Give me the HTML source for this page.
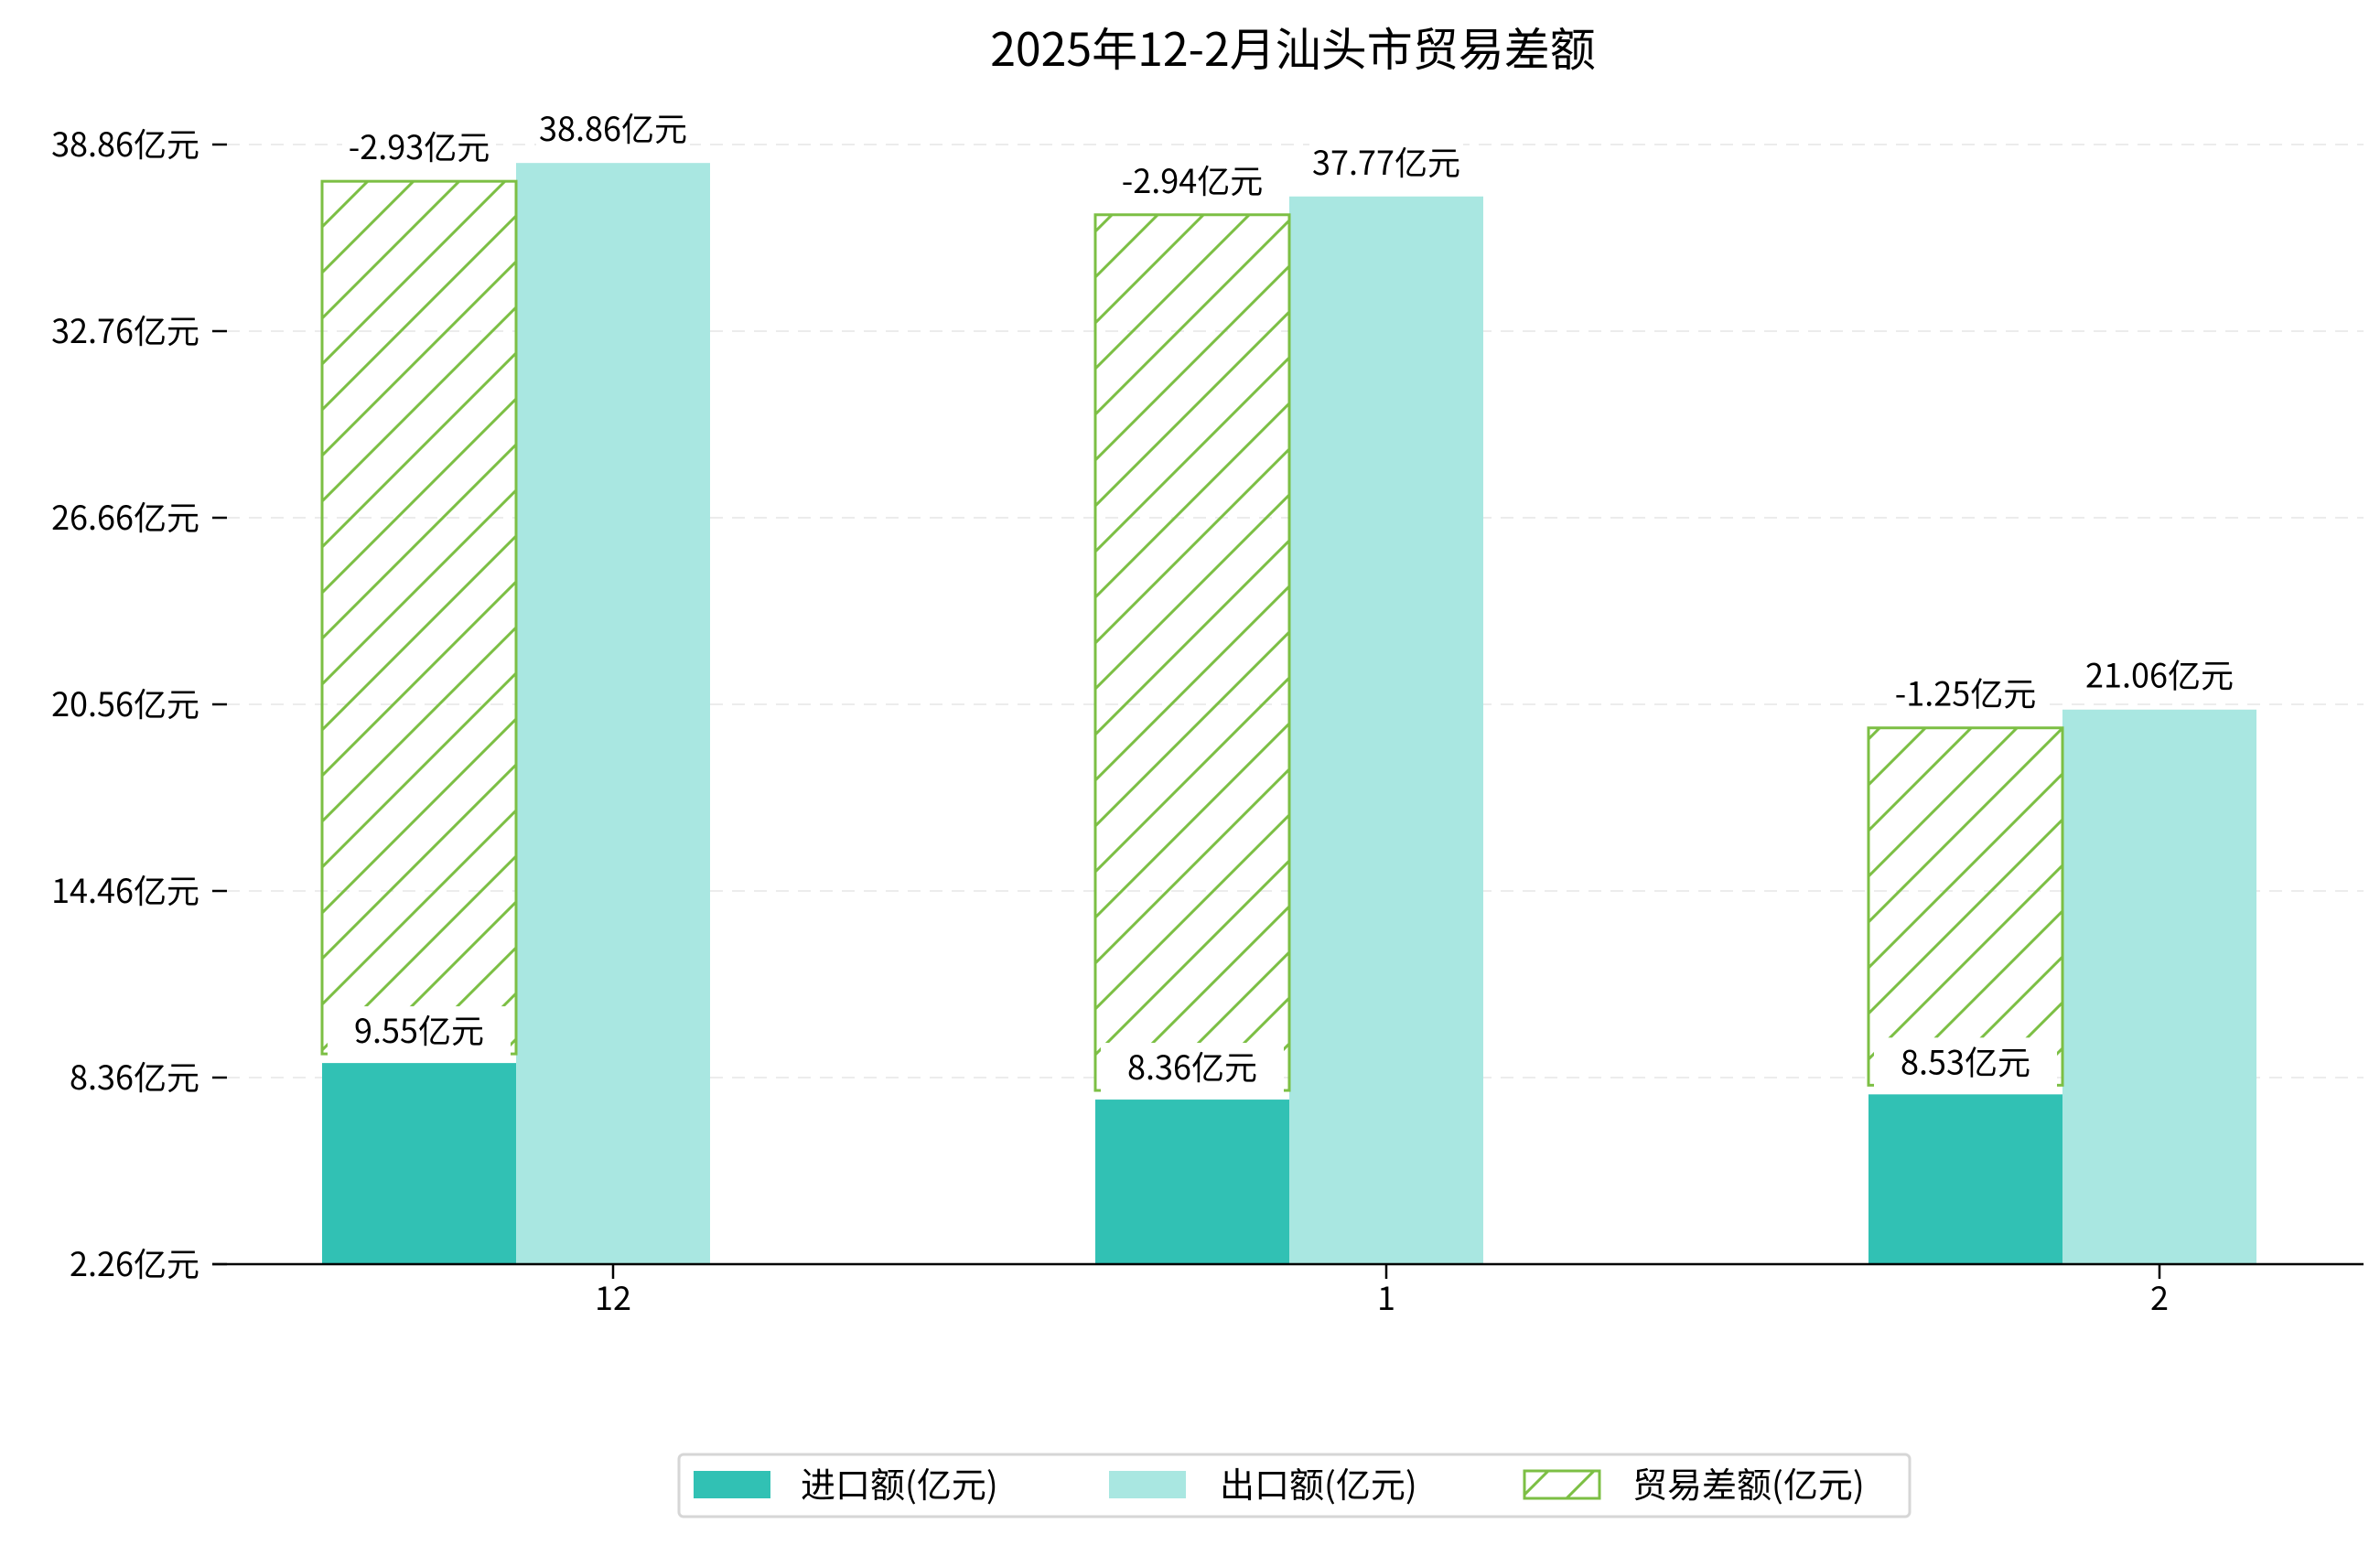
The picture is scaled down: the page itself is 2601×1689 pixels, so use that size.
<!DOCTYPE html>
<html><head><meta charset="utf-8">
<style>
html,body{margin:0;padding:0;background:#fff;}
svg{display:block;font-family:"WenQuanYi Zen Hei","Noto Sans CJK SC",sans-serif;}
</style></head>
<body>
<svg id="chart" width="2601" height="1689" viewBox="0 0 2601 1689" xmlns="http://www.w3.org/2000/svg">
<defs>
<pattern id="hatch" patternUnits="userSpaceOnUse" width="50" height="50">
<path d="M-10,10 L10,-10 M0,50 L50,0 M40,60 L60,40" stroke="#7cbf44" stroke-width="3"/>
</pattern>
</defs>
<text x="1413" y="72" font-size="50" text-anchor="middle" fill="#000">2025年12-2月汕头市贸易差额</text>
<g id="grid"></g>
<g id="bars"></g>
<g id="labels"></g>
<line x1="232" y1="1382" x2="2583" y2="1382" stroke="#000" stroke-width="2.5"/>
<g>
<rect x="742" y="1590" width="1345" height="68" rx="5" fill="#fff" stroke="#d6d6d6" stroke-width="3"/>
<rect x="758" y="1608" width="84" height="30" fill="#31c1b4"/>
<text x="875" y="1637" font-size="38">进口额(亿元)</text>
<rect x="1212" y="1608" width="84" height="30" fill="#a9e7e1"/>
<text x="1333" y="1637" font-size="38">出口额(亿元)</text>
<rect x="1666" y="1608" width="82" height="30" fill="url(#hatch)" stroke="#7cbf44" stroke-width="3"/>
<text x="1784" y="1637" font-size="38">贸易差额(亿元)</text>
</g>
</svg>
<script>
const categories = ["12", "1", "2"];
const imports = [9.55, 8.36, 8.53];
const exports = [38.86, 37.77, 21.06];
const balances = [-2.93, -2.94, -1.25];
const yTickLabels = ["2.26亿元", "8.36亿元", "14.46亿元", "20.56亿元", "26.66亿元", "32.76亿元", "38.86亿元"];

const NS = "http://www.w3.org/2000/svg";
const axisBottom = 1382, axisTop = 158;
const vMin = 3.0, pxPerUnit = 33.57;
function yScale(v){ return axisBottom - (v - vMin) * pxPerUnit; }
function xCenter(i){ return 670 + i * 845; }
const barW = 212;
function mk(tag, attrs, parent){ const e = document.createElementNS(NS, tag); for (const k in attrs) e.setAttribute(k, attrs[k]); parent.appendChild(e); return e; }
const grid = document.getElementById('grid');
const bars = document.getElementById('bars');
const labels = document.getElementById('labels');

yTickLabels.forEach((t, i) => {
  const y = axisBottom - i * (axisBottom - axisTop) / (yTickLabels.length - 1);
  if (i > 0) {
    const g = mk('line', {x1: 248, x2: 2583, y1: y, y2: y, stroke: '#ececec', 'stroke-width': 2, 'stroke-dasharray': '14 10'}, grid);
    
    
  }
  const tk = mk('line', {x1: 232, x2: 248, y1: y, y2: y, stroke: '#000', 'stroke-width': 2.5}, grid);
  
  
  const tl = mk('text', {x: 218, y: y + 13, 'font-size': 36, 'text-anchor': 'end'}, grid);
  tl.textContent = t;
  
  
});

function labelBox(x, y, text, name, w){
  w = w || (text.length * 22 + 14);
  const r = mk('rect', {x: x - w / 2, y: y - 40, width: w, height: 56, fill: '#fff'}, labels);
  
  
  const t = mk('text', {x: x, y: y, 'font-size': 36, 'text-anchor': 'middle'}, labels);
  t.textContent = text;
  
  
}

categories.forEach((c, i) => {
  const cx = xCenter(i);
  const dx = cx - 318, lx = cx - 106;
  const yImp = yScale(imports[i]);
  const yExp = yScale(exports[i]);
  const yHatchTop = yExp + 20;
  const imp = mk('rect', {x: dx, y: yImp, width: barW, height: axisBottom - yImp, fill: '#31c1b4'}, bars);
  
  
  const exp = mk('rect', {x: lx, y: yExp, width: barW, height: axisBottom - yExp, fill: '#a9e7e1'}, bars);
  
  
  const hb = mk('rect', {x: dx, y: yHatchTop, width: barW, height: yImp - 10 - yHatchTop, fill: 'url(#hatch)', stroke: '#7cbf44', 'stroke-width': 3}, bars);
  
  
  const xt = mk('line', {x1: cx, x2: cx, y1: axisBottom, y2: axisBottom + 16, stroke: '#000', 'stroke-width': 2.5}, bars);
  
  
  const xl = mk('text', {x: cx, y: axisBottom + 50, 'font-size': 36, 'text-anchor': 'middle'}, bars);
  xl.textContent = c;
  
  
  labelBox(dx + barW / 2, yHatchTop - 24, balances[i].toFixed(2) + '亿元', 'balance-label');
  labelBox(lx + barW / 2, yExp - 24, exports[i].toFixed(2) + '亿元', 'export-label');
  labelBox(dx + barW / 2, yImp - 22, imports[i].toFixed(2) + '亿元', 'import-label', barW - 12);
});
</script>
</body></html>
